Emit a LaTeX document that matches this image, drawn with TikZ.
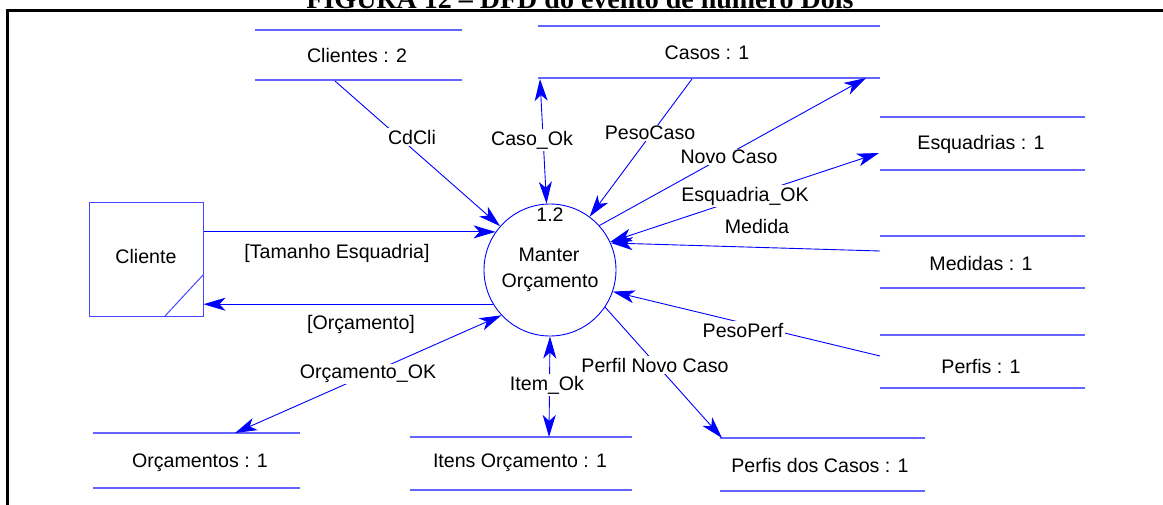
\documentclass[tikz,border=0pt]{standalone}
\usepackage{fontspec}
\setmainfont{Liberation Sans}
\newfontfamily\titlefont{Liberation Serif}
\usetikzlibrary{arrows.meta}

\definecolor{flowblue}{RGB}{0,0,255}
\definecolor{storeblue}{RGB}{100,100,255}
\definecolor{boxblue}{RGB}{70,70,255}

\tikzset{
  txt/.style={font=\fontsize{19.6}{23}\selectfont, inner sep=0pt},
  lbl/.style={font=\fontsize{19.6}{23}\selectfont, fill=white, inner sep=1.5pt},
  storeline/.style={draw=storeblue, line width=1.6pt},
  flow/.style={draw=flowblue, line width=0.9pt,
    -{Stealth[length=22pt,width=13pt,inset=6pt]}},
  biflow/.style={draw=flowblue, line width=0.9pt,
    {Stealth[length=22pt,width=13pt,inset=6pt]}-{Stealth[length=22pt,width=13pt,inset=6pt]}},
  plain/.style={draw=flowblue, line width=0.9pt}
}

\begin{document}
\begin{tikzpicture}[x=1pt,y=-1pt]
\useasboundingbox (0,0) rectangle (1163,504);
\clip (0,0) rectangle (1163,504);

% outer frame and caption
\draw[line width=3pt] (7,10) rectangle (1190,530);
\node[anchor=base, inner sep=0pt, font=\titlefont\bfseries\fontsize{28}{32}\selectfont]
  (title) at (580,8) {FIGURA 12 – DFD do evento de número Dois};

% process
\node[draw=flowblue, line width=0.9pt, circle, minimum size=132pt, inner sep=0pt] (p) at (550,270) {};
\node[txt] (pnum) at (550,215) {1.2};
\node[txt] (pname1) at (549,255) {Manter};
\node[txt] (pname2) at (550,283) {Orçamento};

% external entity
\node[draw=boxblue, line width=1pt, minimum width=114pt, minimum height=114pt, inner sep=0pt] (cli) at (146,259) {};
\node[txt] (clitxt) at (146,256) {Cliente};
\draw[draw=boxblue, line width=1pt] (165,316) -- (203,275);

% data stores
\draw[storeline] (255,30) -- (462,30) (255,80) -- (462,80);
\node[txt] (sClientes) at (357,55) {Clientes : 2};
\draw[storeline] (538,26) -- (880,26) (538,78) -- (880,78);
\node[txt] (sCasos) at (707,53) {Casos : 1};
\draw[storeline] (880,117) -- (1085,117) (880,170) -- (1085,170);
\node[txt] (sEsq) at (981,144) {Esquadrias : 1};
\draw[storeline] (880,236) -- (1085,236) (880,288) -- (1085,288);
\node[txt] (sMed) at (981,263) {Medidas : 1};
\draw[storeline] (880,335) -- (1085,335) (880,388) -- (1085,388);
\node[txt] (sPerf) at (981,366) {Perfis : 1};
\draw[storeline] (93,433) -- (300,433) (93,488) -- (300,488);
\node[txt] (sOrc) at (200,463) {Orçamentos : 1};
\draw[storeline] (410,437) -- (632,437) (410,490) -- (632,490);
\node[txt] (sItens) at (520,463) {Itens Orçamento : 1};
\draw[storeline] (720,438) -- (925,438) (720,491) -- (925,491);
\node[txt] (sPerfCasos) at (820,465) {Perfis dos Casos : 1};

% connector ends on the stores
\coordinate (cClientes) at (335,81);
\coordinate (cCasosA) at (540,79);
\coordinate (cCasosB) at (692,79);
\coordinate (cCasosC) at (866,78);
\coordinate (cEsq) at (879,153);
\coordinate (cMed) at (880,251);
\coordinate (cPerf) at (880,356);
\coordinate (cOrc) at (235,433);
\coordinate (cItens) at (549,437);
\coordinate (cPerfCasos) at (722,438);

% flows
\draw[flow] (p.145 -| cli.east) -- (p.145);
\draw[flow] (p.211) -- (p.211 -| cli.east);
\draw[flow] (cClientes) -- (p);
\draw[biflow] (cCasosA) -- (p);
\draw[flow] (cCasosB) -- (p);
\draw[flow] (p.42) -- (cCasosC);
\draw[biflow] (p.25) -- (cEsq);
\draw[flow] (cMed) -- (p.24);
\draw[flow] (cPerf) -- (p.-19);
\draw[flow] (p.-34) -- (cPerfCasos);
\draw[biflow] (p.south) -- (cItens);
\draw[biflow] (p.223) -- (cOrc);

% flow labels
\node[txt] (lTam) at (337,253) {[Tamanho Esquadria]};
\node[txt] (lOrc) at (361,324) {[Orçamento]};
\node[lbl] (lCd) at (412,137) {CdCli};
\node[lbl] (lCaso) at (532,140) {Caso\_Ok};
\node[lbl] (lPeso) at (650,133) {PesoCaso};
\node[lbl] (lNovo) at (729,157) {Novo Caso};
\node[lbl] (lEsq) at (745,196) {Esquadria\_OK};
\node[txt] (lMed) at (757,226) {Medida};
\node[lbl] (lPP) at (743,330) {PesoPerf};
\node[lbl] (lPNC) at (655,365) {Perfil Novo Caso};
\node[lbl] (lItem) at (547,385) {Item\_Ok};
\node[lbl] (lOrcOk) at (368,374) {Orçamento\_OK};
\end{tikzpicture}
\end{document}
